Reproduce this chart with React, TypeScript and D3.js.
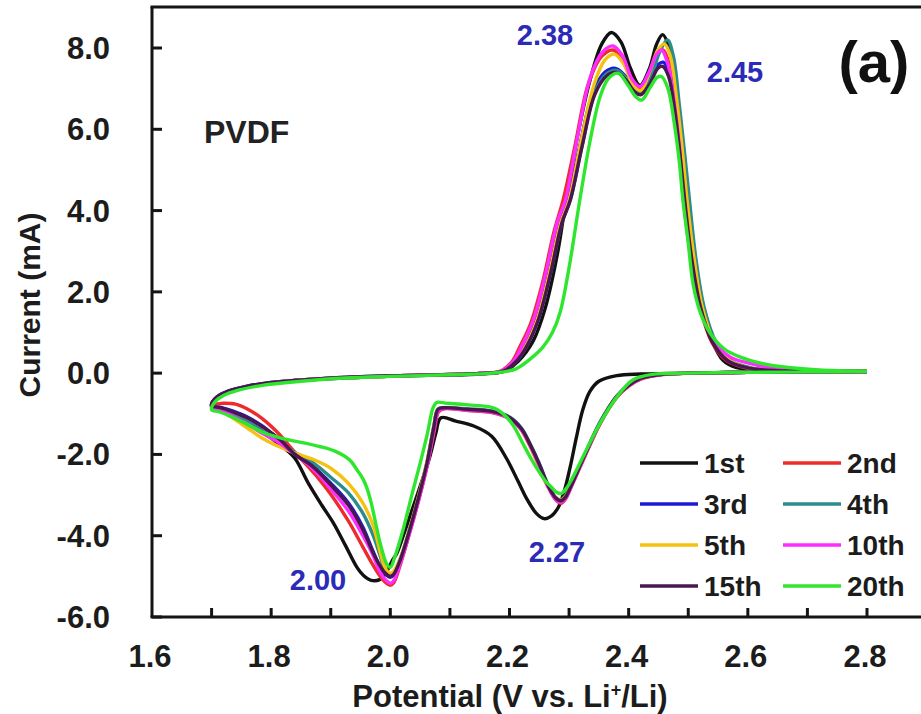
import * as d3 from 'd3';

type Pt = [number, number];

// cycle names + colours
const cycles = ['1st', '2nd', '3rd', '4th', '5th', '10th', '15th', '20th'];
const cycleColors = ['#111111', '#ee2b2b', '#1b1bd6', '#2a8c8c', '#f5c211', '#ff2cff', '#4a1650', '#2fe62f'];

// cathodic scans (2.8 V -> 1.7 V)
const cath1st: Pt[] = [[2.80, 0.04], [2.70, 0.03], [2.60, 0.02], [2.50, 0.0], [2.42, -0.02], [2.38, -0.06], [2.35, -0.2], [2.335, -0.45], [2.323, -0.9], [2.312, -1.6], [2.302, -2.3], [2.292, -2.9], [2.282, -3.3], [2.27, -3.52], [2.258, -3.58], [2.245, -3.45], [2.23, -3.12], [2.215, -2.68], [2.195, -2.1], [2.17, -1.55], [2.14, -1.3], [2.11, -1.18], [2.085, -1.1], [2.076, -1.5], [2.066, -2.07], [2.052, -2.7], [2.038, -3.3], [2.024, -3.9], [2.011, -4.43], [2.003, -4.62], [1.993, -4.9], [1.982, -5.08], [1.968, -5.1], [1.955, -4.98], [1.944, -4.78], [1.925, -4.25], [1.905, -3.7], [1.885, -3.25], [1.862, -2.7], [1.84, -2.1], [1.818, -1.8], [1.785, -1.45], [1.755, -1.2], [1.727, -1.0], [1.708, -0.86], [1.70, -0.8]];
const cath2nd: Pt[] = [[2.80, 0.04], [2.70, 0.03], [2.60, 0.02], [2.50, 0.0], [2.45, -0.05], [2.42, -0.15], [2.40, -0.32], [2.38, -0.6], [2.352, -1.25], [2.325, -2.1], [2.305, -2.75], [2.294, -3.1], [2.287, -3.2], [2.278, -3.12], [2.265, -2.8], [2.25, -2.3], [2.235, -1.8], [2.22, -1.4], [2.20, -1.12], [2.17, -0.97], [2.13, -0.92], [2.09, -0.88], [2.081, -0.95], [2.074, -1.4], [2.063, -2.2], [2.048, -3.1], [2.033, -3.9], [2.018, -4.65], [2.006, -5.15], [2.0, -5.22], [1.992, -5.15], [1.983, -5.0], [1.97, -4.7], [1.954, -4.28], [1.93, -3.65], [1.9, -2.98], [1.88, -2.6], [1.862, -2.3], [1.84, -1.95], [1.812, -1.48], [1.785, -1.12], [1.76, -0.88], [1.74, -0.76], [1.72, -0.74], [1.70, -0.76]];
const cath3rd: Pt[] = [[2.80, 0.04], [2.70, 0.03], [2.60, 0.02], [2.50, 0.0], [2.45, -0.04], [2.42, -0.13], [2.40, -0.3], [2.38, -0.57], [2.352, -1.22], [2.325, -2.05], [2.305, -2.7], [2.294, -3.05], [2.286, -3.15], [2.277, -3.07], [2.264, -2.75], [2.25, -2.25], [2.235, -1.78], [2.22, -1.38], [2.20, -1.1], [2.17, -0.95], [2.13, -0.9], [2.09, -0.86], [2.08, -0.9], [2.073, -1.35], [2.062, -2.2], [2.047, -3.1], [2.032, -3.9], [2.017, -4.6], [2.005, -4.98], [1.999, -5.02], [1.99, -4.92], [1.983, -4.78], [1.97, -4.35], [1.954, -3.79], [1.93, -3.2], [1.9, -2.71], [1.87, -2.3], [1.84, -2.0], [1.812, -1.62], [1.785, -1.3], [1.76, -1.08], [1.735, -0.93], [1.715, -0.84], [1.70, -0.8]];
const cath4th: Pt[] = [[2.80, 0.04], [2.70, 0.03], [2.60, 0.02], [2.50, 0.0], [2.45, -0.04], [2.42, -0.13], [2.40, -0.3], [2.38, -0.57], [2.352, -1.2], [2.325, -2.05], [2.305, -2.7], [2.294, -3.02], [2.286, -3.12], [2.277, -3.05], [2.264, -2.72], [2.25, -2.22], [2.235, -1.75], [2.22, -1.35], [2.20, -1.08], [2.17, -0.93], [2.13, -0.88], [2.09, -0.85], [2.08, -0.88], [2.073, -1.3], [2.062, -2.15], [2.047, -3.05], [2.032, -3.85], [2.017, -4.55], [2.005, -4.92], [1.999, -4.96], [1.99, -4.82], [1.983, -4.5], [1.97, -3.95], [1.954, -3.45], [1.93, -2.95], [1.9, -2.56], [1.87, -2.2], [1.84, -1.95], [1.812, -1.68], [1.785, -1.42], [1.76, -1.18], [1.735, -1.0], [1.715, -0.87], [1.70, -0.82]];
const cath5th: Pt[] = [[2.80, 0.04], [2.70, 0.03], [2.60, 0.02], [2.50, 0.0], [2.45, -0.04], [2.42, -0.13], [2.40, -0.3], [2.38, -0.58], [2.352, -1.22], [2.325, -2.07], [2.305, -2.72], [2.294, -3.03], [2.285, -3.12], [2.275, -3.03], [2.26, -2.68], [2.245, -2.15], [2.23, -1.68], [2.215, -1.3], [2.195, -1.06], [2.17, -0.95], [2.13, -0.9], [2.09, -0.86], [2.08, -0.9], [2.073, -1.32], [2.062, -2.15], [2.047, -3.05], [2.032, -3.85], [2.017, -4.55], [2.005, -4.88], [1.999, -4.92], [1.99, -4.75], [1.983, -4.4], [1.97, -3.7], [1.954, -3.2], [1.93, -2.72], [1.9, -2.34], [1.87, -2.12], [1.84, -1.97], [1.812, -1.8], [1.785, -1.6], [1.76, -1.35], [1.735, -1.1], [1.715, -0.92], [1.70, -0.84]];
const cath10th: Pt[] = [[2.80, 0.04], [2.70, 0.03], [2.60, 0.02], [2.50, 0.0], [2.45, -0.04], [2.42, -0.14], [2.40, -0.31], [2.38, -0.58], [2.352, -1.23], [2.325, -2.08], [2.305, -2.75], [2.294, -3.08], [2.286, -3.18], [2.277, -3.1], [2.264, -2.78], [2.25, -2.28], [2.235, -1.8], [2.22, -1.4], [2.20, -1.12], [2.17, -0.96], [2.13, -0.91], [2.09, -0.87], [2.081, -0.92], [2.074, -1.35], [2.063, -2.2], [2.048, -3.1], [2.033, -3.9], [2.018, -4.62], [2.006, -5.1], [2.001, -5.17], [1.993, -5.1], [1.983, -4.9], [1.97, -4.45], [1.954, -4.0], [1.93, -3.4], [1.9, -2.85], [1.87, -2.35], [1.84, -2.0], [1.812, -1.7], [1.785, -1.48], [1.76, -1.25], [1.735, -1.05], [1.715, -0.9], [1.70, -0.83]];
const cath15th: Pt[] = [[2.80, 0.04], [2.70, 0.03], [2.60, 0.02], [2.50, 0.0], [2.45, -0.04], [2.42, -0.13], [2.40, -0.3], [2.38, -0.57], [2.352, -1.22], [2.325, -2.06], [2.305, -2.72], [2.294, -3.05], [2.286, -3.14], [2.277, -3.06], [2.264, -2.74], [2.25, -2.24], [2.235, -1.77], [2.22, -1.37], [2.20, -1.09], [2.17, -0.94], [2.13, -0.89], [2.09, -0.85], [2.08, -0.89], [2.073, -1.33], [2.062, -2.18], [2.047, -3.08], [2.032, -3.88], [2.017, -4.58], [2.005, -4.96], [1.999, -5.0], [1.99, -4.9], [1.983, -4.75], [1.97, -4.38], [1.954, -3.85], [1.93, -3.25], [1.9, -2.75], [1.87, -2.3], [1.84, -2.0], [1.812, -1.6], [1.785, -1.32], [1.76, -1.1], [1.735, -0.95], [1.715, -0.85], [1.70, -0.8]];
const cath20th: Pt[] = [[2.80, 0.04], [2.70, 0.03], [2.60, 0.02], [2.50, 0.0], [2.44, -0.03], [2.407, -0.17], [2.38, -0.59], [2.352, -1.23], [2.323, -2.07], [2.305, -2.6], [2.296, -2.82], [2.287, -2.96], [2.279, -2.93], [2.27, -2.8], [2.26, -2.65], [2.251, -2.46], [2.236, -2.1], [2.222, -1.72], [2.208, -1.33], [2.195, -1.08], [2.18, -0.9], [2.167, -0.83], [2.13, -0.78], [2.095, -0.74], [2.078, -0.72], [2.072, -0.84], [2.062, -1.5], [2.05, -2.22], [2.036, -3.0], [2.021, -3.87], [2.008, -4.5], [2.0, -4.78], [1.994, -4.7], [1.985, -4.3], [1.977, -3.8], [1.968, -3.2], [1.96, -2.8], [1.954, -2.6], [1.945, -2.4], [1.932, -2.14], [1.907, -1.92], [1.88, -1.8], [1.857, -1.72], [1.835, -1.66], [1.812, -1.58], [1.785, -1.45], [1.756, -1.23], [1.73, -1.05], [1.712, -0.95], [1.70, -0.9]];

// anodic scans (1.7 V -> 2.8 V)
const anod1st: Pt[] = [[1.708, -0.62], [1.727, -0.47], [1.76, -0.34], [1.80, -0.25], [1.87, -0.16], [1.95, -0.1], [2.05, -0.06], [2.15, -0.02], [2.19, 0.04], [2.215, 0.3], [2.24, 0.8], [2.26, 1.6], [2.28, 2.9], [2.295, 4.26], [2.315, 5.9], [2.335, 7.2], [2.355, 8.1], [2.371, 8.38], [2.387, 8.15], [2.403, 7.5], [2.419, 7.08], [2.435, 7.5], [2.447, 8.1], [2.457, 8.33], [2.468, 8.0], [2.478, 7.0], [2.488, 5.7], [2.498, 4.26], [2.51, 2.7], [2.525, 1.5], [2.54, 0.8], [2.558, 0.32], [2.58, 0.14], [2.62, 0.07], [2.70, 0.05], [2.80, 0.04]];
const anod2nd: Pt[] = [[1.708, -0.6], [1.727, -0.46], [1.76, -0.33], [1.80, -0.24], [1.87, -0.15], [1.95, -0.1], [2.05, -0.05], [2.15, -0.01], [2.185, 0.05], [2.205, 0.3], [2.217, 0.64], [2.235, 1.2], [2.255, 2.2], [2.275, 3.5], [2.29, 4.26], [2.31, 5.6], [2.332, 7.1], [2.355, 7.8], [2.374, 7.95], [2.39, 7.7], [2.405, 7.2], [2.419, 7.0], [2.435, 7.35], [2.45, 7.9], [2.458, 7.95], [2.468, 7.6], [2.478, 6.7], [2.486, 5.6], [2.493, 4.26], [2.505, 2.8], [2.52, 1.6], [2.54, 0.75], [2.565, 0.3], [2.6, 0.12], [2.65, 0.06], [2.70, 0.05], [2.80, 0.04]];
const anod3rd: Pt[] = [[1.708, -0.6], [1.727, -0.45], [1.76, -0.32], [1.80, -0.23], [1.87, -0.15], [1.95, -0.09], [2.05, -0.05], [2.15, -0.01], [2.19, 0.05], [2.21, 0.3], [2.225, 0.64], [2.245, 1.3], [2.265, 2.4], [2.285, 3.7], [2.298, 4.26], [2.318, 5.6], [2.34, 6.9], [2.36, 7.4], [2.378, 7.5], [2.395, 7.3], [2.41, 7.0], [2.42, 6.93], [2.435, 7.2], [2.45, 7.6], [2.458, 7.65], [2.468, 7.4], [2.478, 6.6], [2.487, 5.5], [2.495, 4.26], [2.507, 2.8], [2.522, 1.6], [2.542, 0.75], [2.568, 0.3], [2.6, 0.13], [2.65, 0.06], [2.70, 0.05], [2.80, 0.04]];
const anod4th: Pt[] = [[1.708, -0.62], [1.727, -0.47], [1.76, -0.33], [1.80, -0.24], [1.87, -0.15], [1.95, -0.1], [2.05, -0.05], [2.15, -0.01], [2.19, 0.05], [2.212, 0.3], [2.228, 0.64], [2.248, 1.3], [2.268, 2.4], [2.288, 3.7], [2.302, 4.26], [2.322, 5.6], [2.343, 6.9], [2.362, 7.35], [2.38, 7.45], [2.397, 7.25], [2.412, 6.95], [2.422, 6.9], [2.438, 7.3], [2.452, 7.9], [2.465, 8.2], [2.475, 7.8], [2.485, 6.6], [2.494, 5.4], [2.502, 4.26], [2.513, 2.8], [2.527, 1.6], [2.547, 0.75], [2.572, 0.3], [2.605, 0.13], [2.65, 0.06], [2.70, 0.05], [2.80, 0.04]];
const anod5th: Pt[] = [[1.708, -0.63], [1.727, -0.47], [1.76, -0.33], [1.80, -0.24], [1.87, -0.15], [1.95, -0.1], [2.05, -0.05], [2.15, -0.01], [2.19, 0.05], [2.21, 0.3], [2.226, 0.64], [2.246, 1.3], [2.266, 2.4], [2.286, 3.7], [2.3, 4.26], [2.32, 5.7], [2.342, 7.1], [2.36, 7.7], [2.376, 7.85], [2.392, 7.6], [2.407, 7.1], [2.42, 6.95], [2.435, 7.4], [2.449, 7.95], [2.46, 8.1], [2.47, 7.8], [2.48, 6.8], [2.49, 5.5], [2.498, 4.26], [2.51, 2.8], [2.524, 1.6], [2.544, 0.75], [2.57, 0.3], [2.6, 0.13], [2.65, 0.06], [2.70, 0.05], [2.80, 0.04]];
const anod10th: Pt[] = [[1.708, -0.62], [1.727, -0.46], [1.76, -0.33], [1.80, -0.24], [1.87, -0.15], [1.95, -0.1], [2.05, -0.05], [2.15, -0.01], [2.187, 0.05], [2.207, 0.3], [2.22, 0.64], [2.24, 1.3], [2.26, 2.4], [2.28, 3.7], [2.294, 4.26], [2.314, 5.8], [2.336, 7.3], [2.356, 7.9], [2.374, 8.05], [2.39, 7.8], [2.405, 7.25], [2.419, 7.05], [2.434, 7.4], [2.447, 7.85], [2.455, 7.95], [2.466, 7.6], [2.476, 6.7], [2.485, 5.6], [2.492, 4.26], [2.505, 2.8], [2.52, 1.6], [2.542, 0.8], [2.57, 0.4], [2.6, 0.25], [2.65, 0.1], [2.70, 0.06], [2.80, 0.04]];
const anod15th: Pt[] = [[1.708, -0.6], [1.727, -0.45], [1.76, -0.32], [1.80, -0.23], [1.87, -0.15], [1.95, -0.09], [2.05, -0.05], [2.15, -0.01], [2.19, 0.05], [2.212, 0.3], [2.228, 0.64], [2.248, 1.3], [2.268, 2.4], [2.288, 3.7], [2.302, 4.26], [2.322, 5.6], [2.343, 6.85], [2.362, 7.3], [2.38, 7.4], [2.396, 7.2], [2.41, 6.92], [2.42, 6.85], [2.435, 7.1], [2.449, 7.5], [2.457, 7.55], [2.467, 7.3], [2.477, 6.5], [2.486, 5.4], [2.494, 4.26], [2.506, 2.8], [2.521, 1.6], [2.541, 0.75], [2.567, 0.3], [2.6, 0.13], [2.65, 0.06], [2.70, 0.05], [2.80, 0.04]];
const anod20th: Pt[] = [[1.706, -0.7], [1.72, -0.55], [1.745, -0.42], [1.785, -0.3], [1.85, -0.2], [1.924, -0.12], [2.0, -0.08], [2.1, -0.04], [2.17, 0.0], [2.21, 0.1], [2.235, 0.35], [2.256, 0.64], [2.272, 1.0], [2.285, 1.5], [2.3, 2.6], [2.318, 4.26], [2.335, 5.7], [2.352, 6.8], [2.366, 7.25], [2.382, 7.38], [2.398, 7.1], [2.412, 6.8], [2.422, 6.72], [2.435, 7.0], [2.448, 7.28], [2.455, 7.3], [2.466, 7.0], [2.476, 6.2], [2.485, 5.2], [2.491, 4.26], [2.5, 3.2], [2.508, 2.2], [2.52, 1.5], [2.536, 1.0], [2.56, 0.6], [2.59, 0.38], [2.62, 0.25], [2.66, 0.15], [2.72, 0.08], [2.80, 0.05]];

const cathodic = [cath1st, cath2nd, cath3rd, cath4th, cath5th, cath10th, cath15th, cath20th];
const anodic = [anod1st, anod2nd, anod3rd, anod4th, anod5th, anod10th, anod15th, anod20th];

// axis ticks
const xMinorTicks = [1.7, 1.8, 1.9, 2.0, 2.1, 2.2, 2.3, 2.4, 2.5, 2.6, 2.7, 2.8];
const xLabels = [1.6, 1.8, 2.0, 2.2, 2.4, 2.6, 2.8];
const yTicks = [-6, -4, -2, 0, 2, 4, 6, 8];

// peak annotations
const peakNotes = [
  { text: '2.38', x: 545, y: 45 },
  { text: '2.45', x: 735, y: 82 },
  { text: '2.00', x: 318, y: 590 },
  { text: '2.27', x: 557, y: 562 },
];

const W = 921;
const H = 714;
const left = 152;
const top = 7;
const bottom = 617;

const font = '"Liberation Sans", Arial, sans-serif';

export default function App() {
  const x = d3.scaleLinear().domain([1.6, 2.8]).range([left, 867]);
  const y = d3.scaleLinear().domain([-6, 8]).range([bottom, 48]);

  const line = d3.line<Pt>()
    .x(d => x(d[0]))
    .y(d => y(d[1]))
    .curve(d3.curveCatmullRom.alpha(0.5));

  return (
    <svg width={W} height={H} style={{ position: 'absolute', left: 0, top: 0, background: '#fff' }}>
      <rect width={W} height={H} fill="#fff" />

      {/* CV loops */}
      {cycles.map((c, i) => (
        <path key={c} d={line([...cathodic[i], ...anodic[i]]) || ''}
          fill="none" stroke={cycleColors[i]} strokeWidth={3.4} strokeLinejoin="round" />
      ))}

      {/* frame */}
      <g stroke="#151515" strokeWidth={3} fill="none">
        <line x1={left} y1={top} x2={left} y2={bottom} />
        <line x1={left - 1.5} y1={bottom} x2={W} y2={bottom} />
        <line x1={left - 1.5} y1={top} x2={W} y2={top} />
        {xMinorTicks.map(t => (
          <line key={t} x1={x(t)} x2={x(t)} y1={bottom} y2={bottom - 9} />
        ))}
        {yTicks.map(t => (
          <line key={t} x1={left} x2={left + 10} y1={y(t)} y2={y(t)} />
        ))}
      </g>

      {/* tick labels */}
      <g fontFamily={font} fontWeight="bold" fontSize={31} fill="#1c1c1c">
        {xLabels.map(t => (
          <text key={t} x={x(t) - 2} y={667} textAnchor="middle">{t.toFixed(1)}</text>
        ))}
        {yTicks.map(t => (
          <text key={t} x={110} y={y(t) + 11} textAnchor="end">{t.toFixed(1)}</text>
        ))}
      </g>

      {/* axis titles */}
      <text x={510} y={707} textAnchor="middle" fontFamily={font} fontWeight="bold" fontSize={31} fill="#1c1c1c">
        Potential (V vs. Li<tspan dy={-11} fontSize={18}>+</tspan><tspan dy={11}>/Li)</tspan>
      </text>
      <text transform="translate(40,305) rotate(-90)" textAnchor="middle" fontFamily={font} fontWeight="bold" fontSize={30} fill="#1c1c1c">
        Current (mA)
      </text>

      {/* annotations */}
      <text x={204} y={143} fontFamily={font} fontWeight="bold" fontSize={32} fill="#222">PVDF</text>
      <text x={874} y={82} textAnchor="middle" fontFamily={font} fontWeight="bold" fontSize={58} fill="#111">(a)</text>
      {peakNotes.map(n => (
        <text key={n.text} x={n.x} y={n.y} textAnchor="middle" fontFamily={font} fontWeight="bold" fontSize={29} fill="#2b2bb8">{n.text}</text>
      ))}

      {/* legend */}
      <g fontFamily={font} fontWeight="bold" fontSize={28} fill="#1c1c1c">
        {cycles.map((c, i) => {
          const col = i % 2;
          const row = Math.floor(i / 2);
          const lx = col === 0 ? 640 : 783;
          const ly = 463 + row * 41;
          return (
            <g key={c}>
              <line x1={lx} x2={lx + 58} y1={ly} y2={ly} stroke={cycleColors[i]} strokeWidth={3.4} />
              <text x={lx + 64} y={ly + 10}>{c}</text>
            </g>
          );
        })}
      </g>
    </svg>
  );
}
